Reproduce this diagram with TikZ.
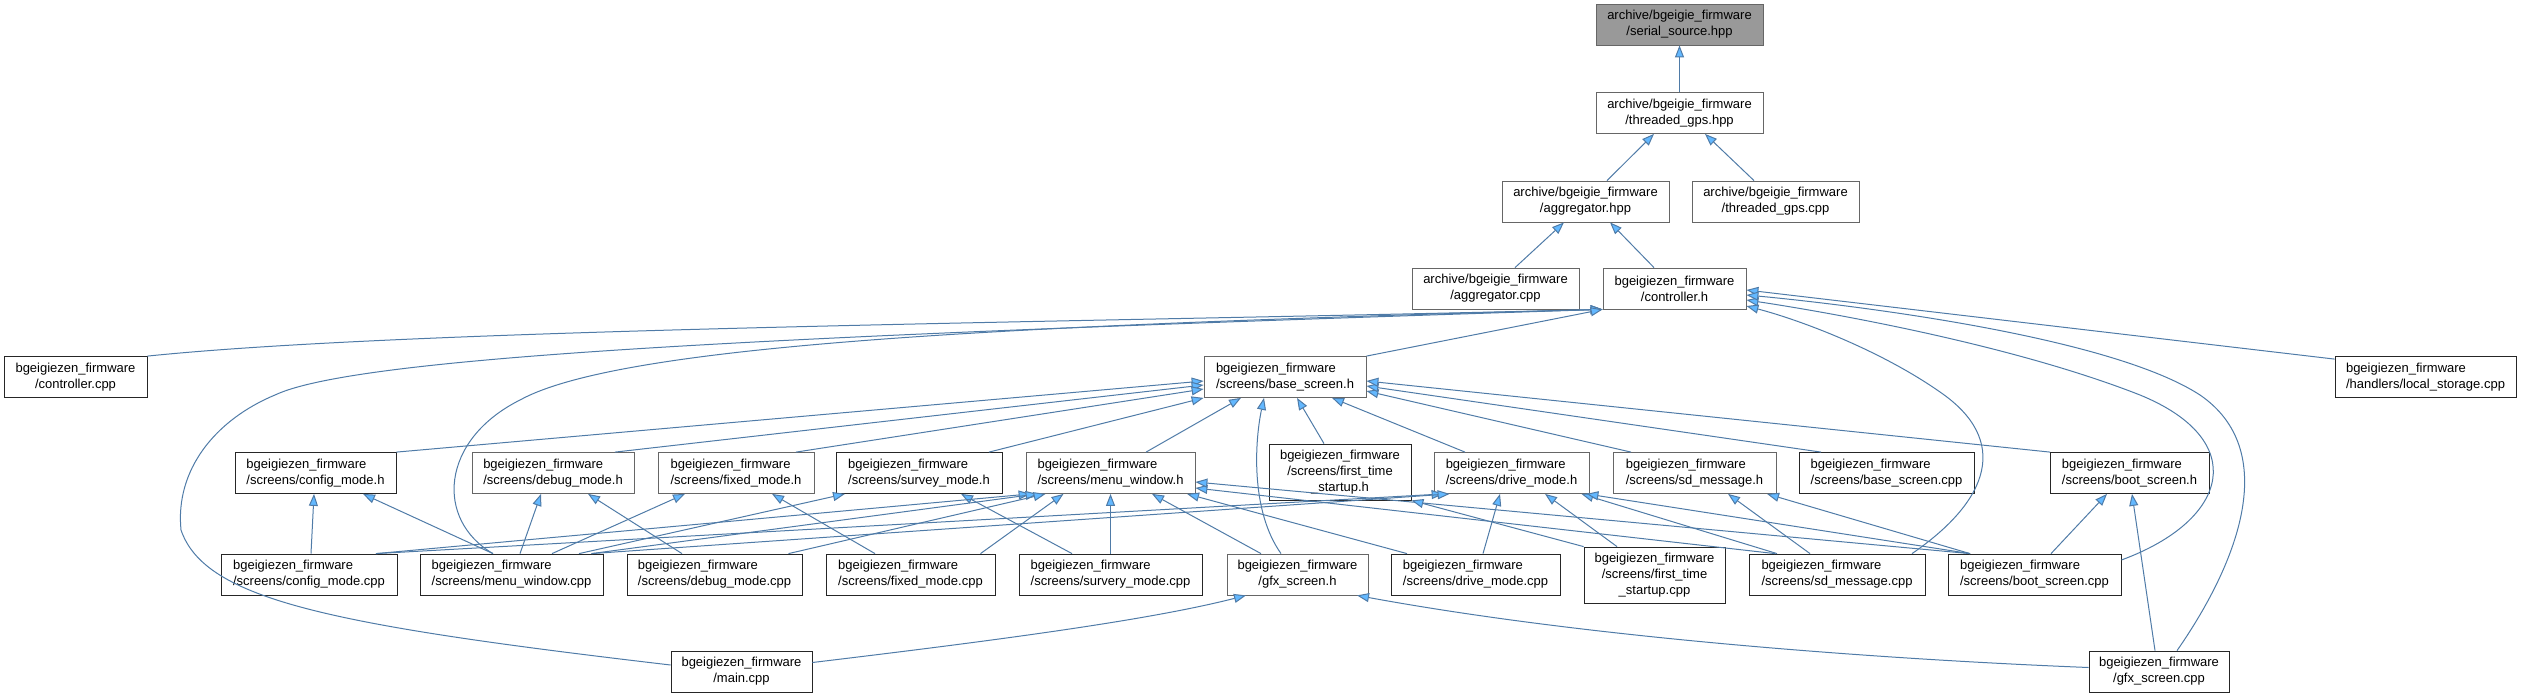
\documentclass[tikz,border=0pt]{standalone}
\usepackage{fontspec}
\setmainfont{Liberation Sans}
\usetikzlibrary{arrows.meta}
\definecolor{edgeblue}{HTML}{4F7BA7}
\definecolor{tipblue}{HTML}{63B8FF}
\definecolor{boxgrey}{HTML}{666666}
\definecolor{headgrey}{HTML}{999999}
\newcommand{\filefont}{\fontsize{13}{16}\selectfont}
\tikzset{
  hfile/.style={draw=boxgrey,fill=white,line width=0.8pt,inner sep=0pt,minimum height=41pt,align=left,font=\filefont},
  cfile/.style={hfile,draw=black!85},
  mid/.style={align=center},
  focus/.style={hfile,fill=headgrey,align=center},
  dep/.style={edgeblue,line width=1pt,-{Triangle[length=12pt,width=9pt,fill=tipblue]}},
}

\begin{document}
\begin{tikzpicture}[x=1pt,y=-1pt]
  \useasboundingbox (0,0) rectangle (2521,696);
  % Archive part
  \node[focus,minimum width=167pt] (serial) at (1679.5,24.5) {archive/bgeigie\_firmware\\/serial\_source.hpp};
  \node[hfile,mid,minimum width=167pt] (tgpshpp) at (1679.5,113) {archive/bgeigie\_firmware\\/threaded\_gps.hpp};
  \node[hfile,mid,minimum width=167pt] (aggrhpp) at (1585.5,201.5) {archive/bgeigie\_firmware\\/aggregator.hpp};
  \node[hfile,mid,minimum width=167pt] (tgpscpp) at (1775.5,201.5) {archive/bgeigie\_firmware\\/threaded\_gps.cpp};
  \node[hfile,mid,minimum width=167pt] (aggrcpp) at (1495.5,288.5) {archive/bgeigie\_firmware\\/aggregator.cpp};
  \node[hfile,mid,minimum width=143pt] (ctrlh) at (1674.5,288.5) {bgeigiezen\_firmware\\/controller.h};
  % Row with base screen
  \node[cfile,mid,minimum width=143pt] (ctrlcpp) at (75.5,377) {bgeigiezen\_firmware\\/controller.cpp};
  \node[hfile,minimum width=162pt] (baseh) at (1285,377) {bgeigiezen\_firmware\\/screens/base\_screen.h};
  \node[cfile,minimum width=181pt] (localcpp) at (2425.5,377) {bgeigiezen\_firmware\\/handlers/local\_storage.cpp};
  % Screen headers
  \node[cfile,minimum width=161pt] (configh) at (315.5,473) {bgeigiezen\_firmware\\/screens/config\_mode.h};
  \node[hfile,minimum width=162pt] (debugh) at (553,473) {bgeigiezen\_firmware\\/screens/debug\_mode.h};
  \node[hfile,minimum width=156pt] (fixedh) at (736,473) {bgeigiezen\_firmware\\/screens/fixed\_mode.h};
  \node[cfile,minimum width=166pt] (surveyh) at (919,473) {bgeigiezen\_firmware\\/screens/survey\_mode.h};
  \node[hfile,minimum width=169pt] (menuh) at (1110.5,473) {bgeigiezen\_firmware\\/screens/menu\_window.h};
  \node[cfile,mid,minimum width=142pt,minimum height=56pt] (firsth) at (1340,472) {bgeigiezen\_firmware\\/screens/first\_time\\\_startup.h};
  \node[hfile,minimum width=155pt] (driveh) at (1511.5,473) {bgeigiezen\_firmware\\/screens/drive\_mode.h};
  \node[hfile,minimum width=163pt] (sdmsgh) at (1694.5,473) {bgeigiezen\_firmware\\/screens/sd\_message.h};
  \node[cfile,minimum width=175pt] (basecpp) at (1886.5,473) {bgeigiezen\_firmware\\/screens/base\_screen.cpp};
  \node[cfile,minimum width=159pt] (booth) at (2129.5,473) {bgeigiezen\_firmware\\/screens/boot\_screen.h};
  % Screen sources
  \node[cfile,minimum width=176pt] (configcpp) at (309,574.5) {bgeigiezen\_firmware\\/screens/config\_mode.cpp};
  \node[cfile,minimum width=183pt] (menucpp) at (511.5,574.5) {bgeigiezen\_firmware\\/screens/menu\_window.cpp};
  \node[cfile,minimum width=175pt] (debugcpp) at (714.5,574.5) {bgeigiezen\_firmware\\/screens/debug\_mode.cpp};
  \node[cfile,minimum width=169pt] (fixedcpp) at (910.5,574.5) {bgeigiezen\_firmware\\/screens/fixed\_mode.cpp};
  \node[cfile,minimum width=183pt] (surverycpp) at (1110.5,574.5) {bgeigiezen\_firmware\\/screens/survery\_mode.cpp};
  \node[hfile,mid,minimum width=141pt] (gfxh) at (1297.5,574.5) {bgeigiezen\_firmware\\/gfx\_screen.h};
  \node[cfile,minimum width=169pt] (drivecpp) at (1475.5,574.5) {bgeigiezen\_firmware\\/screens/drive\_mode.cpp};
  \node[cfile,mid,minimum width=141pt,minimum height=56pt] (firstcpp) at (1654.5,575) {bgeigiezen\_firmware\\/screens/first\_time\\\_startup.cpp};
  \node[cfile,minimum width=176pt] (sdmsgcpp) at (1837,574.5) {bgeigiezen\_firmware\\/screens/sd\_message.cpp};
  \node[cfile,minimum width=173pt] (bootcpp) at (2034.5,574.5) {bgeigiezen\_firmware\\/screens/boot\_screen.cpp};
  % Bottom row
  \node[cfile,mid,minimum width=141pt] (maincpp) at (741.5,671.5) {bgeigiezen\_firmware\\/main.cpp};
  \node[cfile,mid,minimum width=140pt] (gfxcpp) at (2159,671.5) {bgeigiezen\_firmware\\/gfx\_screen.cpp};

  % Archive includes
  \draw[dep] (tgpshpp.north) -- (serial.south);
  \draw[dep] ([xshift=21.5]aggrhpp.north) -- ([xshift=-25.5]tgpshpp.south);
  \draw[dep] ([xshift=-21.5]tgpscpp.north) -- ([xshift=25.5]tgpshpp.south);
  \draw[dep] ([xshift=19.5]aggrcpp.north) -- ([xshift=-21.5]aggrhpp.south);
  \draw[dep] ([xshift=-20.5]ctrlh.north) -- ([xshift=24.5]aggrhpp.south);
  % Into controller.h
  \draw[dep] (ctrlcpp.north east) .. controls (420,328) and (1100,322) .. (ctrlh.south west);
  \draw[dep] ([yshift=6.5]maincpp.west) .. controls (330,625) and (205,600) .. (181,530)
    .. controls (175,470) and (215,420) .. (275,395)
    .. controls (360,355) and (800,335) .. (ctrlh.south west);
  \draw[dep] ([xshift=-18.5]menucpp.north) .. controls (435,520) and (440,440) .. (520,400)
    .. controls (620,345) and (1000,325) .. (ctrlh.south west);
  \draw[dep] (baseh.north east) -- (ctrlh.south west);
  \draw[dep] ([yshift=-3]localcpp.north west) -- ([yshift=-1.5]ctrlh.east);
  \draw[dep] ([xshift=75]sdmsgcpp.north) .. controls (1990,500) and (2010,440) .. (1940,392)
    .. controls (1880,350) and (1800,320) .. ([yshift=-17.5]ctrlh.east);
  \draw[dep] ([yshift=14.5]bootcpp.east) .. controls (2230,520) and (2250,440) .. (2140,395)
    .. controls (2000,340) and (1800,308) .. ([yshift=-11.5]ctrlh.east);
  \draw[dep] ([xshift=18]gfxcpp.north) .. controls (2240,560) and (2280,450) .. (2200,395)
    .. controls (2100,330) and (1800,300) .. ([yshift=-6.5]ctrlh.east);
  % Into base_screen.h
  \draw[dep] (configh.north east) -- ([yshift=-4]baseh.west);
  \draw[dep] ([xshift=62]debugh.north) -- ([yshift=-8]baseh.west);
  \draw[dep] ([xshift=60]fixedh.north) -- ([yshift=-12]baseh.west);
  \draw[dep] ([xshift=70]surveyh.north) -- (baseh.south west);
  \draw[dep] ([xshift=35.5]menuh.north) -- ([xshift=-44]baseh.south);
  \draw[dep] ([xshift=-16]firsth.north) -- ([xshift=12]baseh.south);
  \draw[dep] ([xshift=-16.5]gfxh.north) .. controls (1250,510) and (1255,440) .. ([xshift=-21]baseh.south);
  \draw[dep] ([xshift=-46.5]driveh.north) -- ([xshift=47]baseh.south);
  \draw[dep] ([xshift=-63.5]sdmsgh.north) -- ([yshift=-14]baseh.east);
  \draw[dep] ([xshift=-65.5]basecpp.north) -- ([yshift=-9]baseh.east);
  \draw[dep] ([xshift=-79.5]booth.north) -- ([yshift=-4]baseh.east);
  % Into the mode headers
  \draw[dep] ([xshift=2]configcpp.north) -- ([xshift=-1.5]configh.south);
  \draw[dep] ([xshift=-18.5]menucpp.north) -- ([xshift=47.5]configh.south);
  \draw[dep] ([xshift=8.5]menucpp.north) -- ([xshift=-12]debugh.south);
  \draw[dep] ([xshift=-32.5]debugcpp.north) -- ([xshift=35]debugh.south);
  \draw[dep] ([xshift=40.5]menucpp.north) -- ([xshift=-51]fixedh.south);
  \draw[dep] ([xshift=-35.5]fixedcpp.north) -- ([xshift=36]fixedh.south);
  \draw[dep] ([xshift=67.5]menucpp.north) -- ([xshift=-74]surveyh.south);
  \draw[dep] ([xshift=-38.5]surverycpp.north) -- ([xshift=42]surveyh.south);
  % Into menu_window.h
  \draw[dep] ([xshift=67]configcpp.north) -- ([xshift=5]menuh.south west);
  \draw[dep] ([xshift=80]menucpp.north) -- ([xshift=12]menuh.south west);
  \draw[dep] ([xshift=74]debugcpp.north) -- ([xshift=20]menuh.south west);
  \draw[dep] ([xshift=70]fixedcpp.north) -- ([xshift=-47]menuh.south);
  \draw[dep] (surverycpp.north) -- (menuh.south);
  \draw[dep] ([xshift=-36.5]gfxh.north) -- ([xshift=41.5]menuh.south);
  \draw[dep] ([xshift=-68.5]drivecpp.north) -- ([xshift=76.5]menuh.south);
  \draw[dep] ([xshift=-62]sdmsgcpp.north) -- ([yshift=-15]menuh.east);
  \draw[dep] ([xshift=-64.5]bootcpp.north) -- ([yshift=-9]menuh.east);
  % Into drive_mode.h and first_time_startup.h
  \draw[dep] ([xshift=67]configcpp.north) -- ([xshift=10]driveh.south west);
  \draw[dep] ([xshift=80]menucpp.north) -- ([xshift=16]driveh.south west);
  \draw[dep] ([xshift=7.5]drivecpp.north) -- ([xshift=-11.5]driveh.south);
  \draw[dep] ([xshift=-37.5]firstcpp.north) -- ([xshift=33.5]driveh.south);
  \draw[dep] ([xshift=-60]sdmsgcpp.north) -- ([xshift=-8]driveh.south east);
  \draw[dep] ([xshift=-64.5]bootcpp.north) -- ([xshift=-3]driveh.south east);
  \draw[dep] (firstcpp.north west) -- (firsth.south east);
  % Into sd_message.h and boot_screen.h
  \draw[dep] ([xshift=-27]sdmsgcpp.north) -- ([xshift=33.5]sdmsgh.south);
  \draw[dep] ([xshift=-64.5]bootcpp.north) -- ([xshift=72.5]sdmsgh.south);
  \draw[dep] ([xshift=16.5]bootcpp.north) -- ([xshift=-22.5]booth.south);
  \draw[dep] ([xshift=-4]gfxcpp.north) -- ([xshift=2.5]booth.south);
  % Into gfx_screen.h
  \draw[dep] ([yshift=4]gfxcpp.west) .. controls (1900,660) and (1600,640) .. ([xshift=59.5]gfxh.south);
  \draw[dep] ([yshift=9]maincpp.east) .. controls (1000,640) and (1150,620) .. ([xshift=-51.5]gfxh.south);
\end{tikzpicture}
\end{document}
